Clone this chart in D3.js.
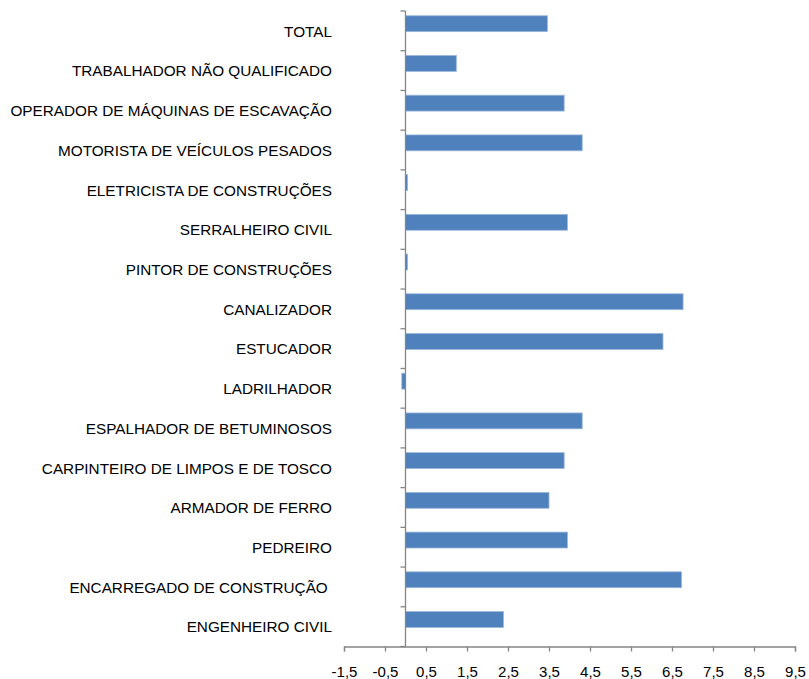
<!DOCTYPE html>
<meta charset="utf-8">
<script src="https://cdn.jsdelivr.net/npm/d3@7/dist/d3.min.js"></script>
<style>
    body { margin: 0; background: #fff; }
    text { font-family: "Liberation Sans", Arial, sans-serif; fill: #000; }
</style>
<body>
<svg width="809" height="679"></svg>
</body>
<script>

    // categorias (de cima para baixo)
    var categorias = [
        "TOTAL",
        "TRABALHADOR NÃO QUALIFICADO",
        "OPERADOR DE MÁQUINAS DE ESCAVAÇÃO",
        "MOTORISTA DE VEÍCULOS PESADOS",
        "ELETRICISTA DE CONSTRUÇÕES",
        "SERRALHEIRO CIVIL",
        "PINTOR DE CONSTRUÇÕES",
        "CANALIZADOR",
        "ESTUCADOR",
        "LADRILHADOR",
        "ESPALHADOR DE BETUMINOSOS",
        "CARPINTEIRO DE LIMPOS E DE TOSCO",
        "ARMADOR DE FERRO",
        "PEDREIRO",
        "ENCARREGADO DE CONSTRUÇÃO ",
        "ENGENHEIRO CIVIL"
    ];

    // variação (%)
    var valores = [3.46, 1.24, 3.87, 4.31, 0.05, 3.95, 0.05, 6.77, 6.28, -0.09, 4.31, 3.87, 3.50, 3.95, 6.73, 2.39];

    var xTicks = [-1.5, -0.5, 0.5, 1.5, 2.5, 3.5, 4.5, 5.5, 6.5, 7.5, 8.5, 9.5];

    var clr_barra = "#4f81bd",
        clr_borda = "#9bb7dc",
        clr_eixo = "#868686";

    var svg = d3.select('svg');

    var x = d3.scaleLinear()
        .domain([-1.5, 9.5])
        .range([344, 795]);

    var y = d3.scaleBand()
        .domain(categorias)
        .range([11, 646.5])
        .paddingInner(0);

    var bw = y.bandwidth();

    //barras
    svg.append('g').selectAll('rect')
        .data(valores)
        .enter()
        .append('rect')
        .attr('x', function (d) { return Math.min(x(0), x(d)); })
        .attr('width', function (d) { return Math.abs(x(d) - x(0)); })
        .attr('y', function (d, i) { return y(categorias[i]) + bw * 0.12; })
        .attr('height', bw * 0.4)
        .attr('fill', clr_barra)
        .attr('stroke', clr_borda)
        .attr('stroke-width', 0.8);

    //eixo x
    var xAxis = d3.axisBottom(x)
        .tickValues(xTicks)
        .tickSize(5)
        .tickPadding(15)
        .tickFormat(function (d) { return d3.format(".1f")(d).replace('.', ',').replace('−', '-'); });

    var gx = svg.append('g')
        .attr('transform', 'translate(0,' + 646.5 + ')')
        .call(xAxis);
    gx.select('.domain').attr('stroke', clr_eixo).attr('stroke-width', 1.3);
    gx.selectAll('.tick line').attr('stroke', clr_eixo).attr('stroke-width', 1.3);
    gx.selectAll('.tick text')
        .attr('font-size', '15px')
        .style('font-family', '"Liberation Sans", Arial, sans-serif')
        .attr('fill', '#000');

    //eixo y (em zero)
    var x0 = x(0);
    var gy = svg.append('g');
    gy.append('line')
        .attr('x1', x0).attr('x2', x0)
        .attr('y1', y.range()[0]).attr('y2', y.range()[1])
        .attr('stroke', clr_eixo).attr('stroke-width', 1.3);
    var marcas = categorias.map(function (c) { return y(c); }).concat([y.range()[1]]);
    gy.selectAll('line.tk')
        .data(marcas)
        .enter()
        .append('line')
        .attr('class', 'tk')
        .attr('x1', x0 - 5).attr('x2', x0)
        .attr('y1', function (d) { return d; })
        .attr('y2', function (d) { return d; })
        .attr('stroke', clr_eixo).attr('stroke-width', 1.3);

    //rótulos das categorias
    svg.append('g').selectAll('text')
        .data(categorias)
        .enter()
        .append('text')
        .attr('x', 332)
        .attr('y', function (d) { return y(d) + bw / 2; })
        .attr('dy', '0.38em')
        .attr('text-anchor', 'end')
        .attr('font-size', '15.3px')
        .style('white-space', 'pre')
        .text(function (d) { return d; });

</script>
